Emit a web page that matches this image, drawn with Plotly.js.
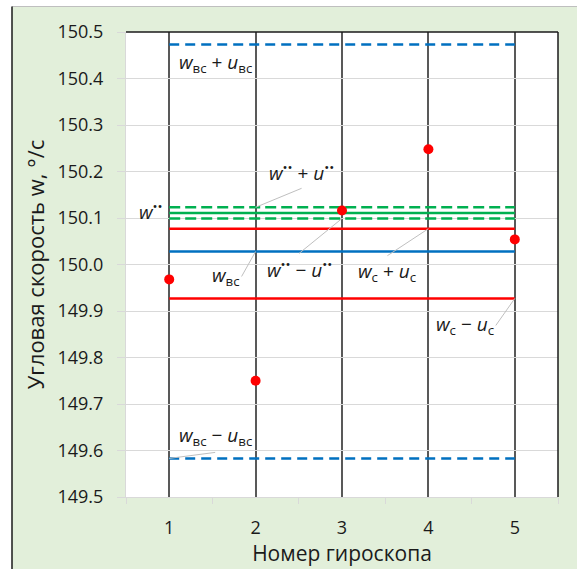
<!DOCTYPE html>
<html>
<head>
<meta charset="utf-8">
<script src="https://cdn.plot.ly/plotly-3.0.1.min.js"></script>
<style>html,body{margin:0;padding:0;background:#fff;}#chart{width:577px;height:569px;}</style>
</head>
<body>
<div id="chart"></div>
<script>
// ---- data ----
const gyro = [1, 2, 3, 4, 5];
const tickLabels = ['1', '2', '3', '4', '5'];
const measured = [149.968, 149.750, 150.116, 150.248, 150.054];
const wBC = 150.028, uBC = 0.445;     // w_вс, u_вс
const wSS = 150.111, uSS = 0.012;     // w**, u**
const wC = 150.002, uC = 0.075;       // w_c, u_c

const FONT = 'Open Sans, Noto Sans, sans-serif';
const BLUE = '#0070c0', GREEN = '#00b050', RED = '#ff0000';
const xs = [gyro[0], gyro[gyro.length - 1]];

function hline(v, color, dash) {
  return {x: xs, y: [v, v], type: 'scatter', mode: 'lines', hoverinfo: 'skip',
          line: {color: color, width: 2.5, dash: dash || 'solid'}, showlegend: false};
}

const traces = [
  hline(wBC + uBC, BLUE, '10px,6px'),
  hline(wBC - uBC, BLUE, '10px,6px'),
  hline(wBC, BLUE),
  hline(wC + uC, RED),
  hline(wC - uC, RED),
  hline(wSS + uSS, GREEN, '11px,5px'),
  hline(wSS - uSS, GREEN, '11px,5px'),
  hline(wSS, GREEN),
  {x: gyro, y: measured, type: 'scatter', mode: 'markers', showlegend: false,
   marker: {color: RED, size: 10}}
];

const LBL = {family: FONT, size: 19, color: '#1a1a1a'};
const LEAD = {showarrow: true, arrowhead: 0, arrowwidth: 1, arrowcolor: '#bfbfbf', axref: 'pixel', ayref: 'pixel', font: LBL};
const SS = '<sup>••</sup>';

const annotations = [
  {x: gyro[0], y: wBC + uBC, text: '<i>w</i><sub>вс</sub> + <i>u</i><sub>вс</sub>', showarrow: false,
   xanchor: 'left', yanchor: 'middle', xshift: 8, yshift: -18, font: LBL},
  Object.assign({x: gyro[0], y: wBC - uBC, text: '<i>w</i><sub>вс</sub> − <i>u</i><sub>вс</sub>',
   ax: 46, ay: -6, xanchor: 'center', yanchor: 'bottom'}, LEAD),
  {x: gyro[0], y: wSS, text: '<i>w</i>' + SS, showarrow: false,
   xanchor: 'right', yanchor: 'middle', xshift: -4, yshift: 2, font: LBL},
  Object.assign({x: gyro[1], y: wSS + uSS, text: '<i>w</i>' + SS + ' + <i>u</i>' + SS,
   ax: 46, ay: -19, xanchor: 'center', yanchor: 'bottom'}, LEAD),
  Object.assign({x: gyro[1], y: wBC, text: '<i>w</i><sub>вс</sub>',
   ax: -14, ay: 25, xanchor: 'right', yanchor: 'middle'}, LEAD),
  Object.assign({x: gyro[2], y: wSS - uSS, text: '<i>w</i>' + SS + ' − <i>u</i>' + SS,
   ax: -43, ay: 35, xanchor: 'center', yanchor: 'top'}, LEAD),
  Object.assign({x: gyro[3], y: wC + uC, text: '<i>w</i><sub>c</sub> + <i>u</i><sub>c</sub>',
   ax: -41, ay: 27, xanchor: 'center', yanchor: 'top'}, LEAD),
  Object.assign({x: gyro[4], y: wC - uC, text: '<i>w</i><sub>c</sub> − <i>u</i><sub>c</sub>',
   ax: -19, ay: 27, xanchor: 'right', yanchor: 'middle'}, LEAD)
];

// paper helpers (plot area 126..558 x, 32..497 y)
const L = 126, R = 558, T = 32, B = 497, W = 577, H = 569;
const px = v => (v - L) / (R - L);
const py = v => (B - v) / (B - T);

const shapes = [
  {type: 'rect', xref: 'paper', yref: 'paper', x0: px(-2), x1: px(12), y0: py(H + 2), y1: py(-2), fillcolor: '#ffffff', line: {width: 0}, layer: 'above'},
  {type: 'rect', xref: 'paper', yref: 'paper', x0: px(-2), x1: px(W + 2), y0: py(6.5), y1: py(-2), fillcolor: '#ffffff', line: {width: 0}, layer: 'above'},
  {type: 'line', xref: 'paper', yref: 'paper', x0: px(12), x1: px(W + 2), y0: py(6.5), y1: py(6.5), line: {color: '#bfbfbf', width: 1}, layer: 'above'},
  {type: 'line', xref: 'paper', yref: 'paper', x0: px(12), x1: px(12), y0: py(6.5), y1: py(H + 2), line: {color: '#1a1a1a', width: 1.5}, layer: 'above'},
  {type: 'line', xref: 'paper', yref: 'paper', x0: 0, x1: 1, y0: 1, y1: 1, line: {color: '#1a1a1a', width: 1.5}, layer: 'above'},
  {type: 'line', xref: 'paper', yref: 'paper', x0: 1, x1: 1, y0: 0, y1: 1, line: {color: '#1a1a1a', width: 1.5}, layer: 'above'}
];

const layout = {
  width: W, height: H,
  margin: {l: L, r: W - R, t: T, b: H - B},
  paper_bgcolor: '#e2efda',
  plot_bgcolor: '#ffffff',
  font: {family: FONT, color: '#1a1a1a'},
  xaxis: {
    range: [0.5, 5.5], tickmode: 'array', tickvals: gyro, ticktext: tickLabels,
    ticks: '', showgrid: true, gridcolor: '#595959', gridwidth: 2,
    showline: true, linecolor: '#d9d9d9', linewidth: 1, zeroline: false,
    ticklabelstandoff: 14,
    tickfont: {family: FONT, size: 18, color: '#1a1a1a'},
    minor: {tick0: 0.5, dtick: 1, ticks: 'outside', ticklen: 6, tickcolor: '#d9d9d9', tickwidth: 1, showgrid: false},
    title: {text: 'Номер гироскопа', font: {family: FONT, size: 21, color: '#1a1a1a'}, standoff: 6}
  },
  yaxis: {
    range: [149.5, 150.5], dtick: 0.1, tick0: 149.5, tickformat: '.1f',
    ticks: 'outside', ticklen: 8, tickcolor: '#d9d9d9', tickwidth: 1,
    ticklabelstandoff: 10,
    showgrid: true, gridcolor: '#d9d9d9', gridwidth: 1,
    showline: true, linecolor: '#d9d9d9', linewidth: 1, zeroline: false,
    tickfont: {family: FONT, size: 18, color: '#1a1a1a'},
    title: {text: 'Угловая скорость w, °/с', font: {family: FONT, size: 22, color: '#1a1a1a'}, standoff: 6}
  },
  annotations: annotations,
  shapes: shapes,
  showlegend: false
};

Plotly.newPlot('chart', traces, layout, {displayModeBar: false, staticPlot: true});
</script>
</body>
</html>
